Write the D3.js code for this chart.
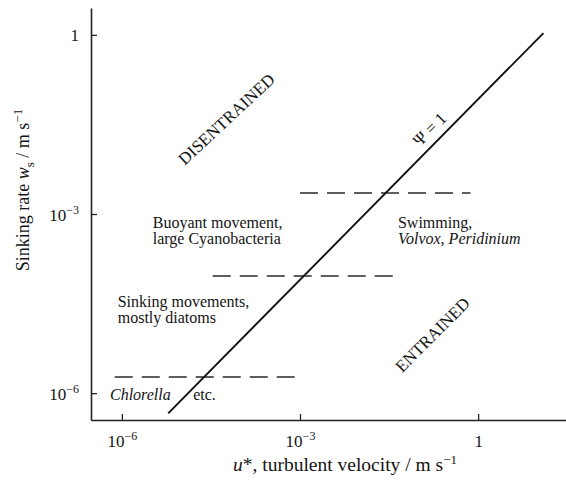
<!DOCTYPE html>
<html>
<head>
<meta charset="utf-8">
<script src="https://cdn.jsdelivr.net/npm/d3@7"></script>
<style>
  body { margin: 0; background: #fff; }
  svg text { fill: #141414; }
</style>
</head>
<body>
<div id="chart"></div>
<script>
const SERIF = '"Liberation Serif", "Times New Roman", Times, "DejaVu Serif", serif';

// log10 exponents for axis ticks
const xTickExps = [-6, -3, 0];
const yTickExps = [-6, -3, 0];

// Psi = 1 line, endpoints as log10(u*), log10(ws)
const psiLine = [[-5.22, -6.34], [1.10, 0.03]];

// dashed class boundaries: log10 ws, from/to log10 u*
const boundaryW = [-2.65, -4.04, -5.73];
const boundaryFrom = [-3.0, -4.47, -6.12];
const boundaryTo = [-0.13, -1.31, -3.08];

// text blocks: lines, log10 u* (left edge), log10 ws (first baseline)
const noteLines = [
  [["Buoyant movement,", false], ["large Cyanobacteria", false]],
  [["Sinking movements,", false], ["mostly diatoms", false]],
  [["Swimming,", false], ["Volvox, Peridinium", true]]
];
const noteU = [-5.48, -6.07, -1.35];
const noteW = [-3.24, -4.56, -3.24];

const regionLabels = ["DISENTRAINED", "ENTRAINED"];
const regionU = [-4.23, -0.76];
const regionW = [-1.42, -5.03];
const regionAngle = [-43, -45];

const width = 566, height = 484;
const margin = { top: 8, right: 0, bottom: 64, left: 91 };

const x = d3.scaleLog()
  .domain([Math.pow(10, -6.52), Math.pow(10, 1.48)])
  .range([margin.left, width - margin.right]);
const y = d3.scaleLog()
  .domain([Math.pow(10, -6.45), Math.pow(10, 0.45)])
  .range([height - margin.bottom, margin.top]);

const px = e => x(Math.pow(10, e));
const py = e => y(Math.pow(10, e));

const svg = d3.select('#chart').append('svg')
  .attr('width', width)
  .attr('height', height)
  .attr('font-family', SERIF);

// tick label with superscript exponent
function powLabel(sel, e) {
  sel.text(null);
  if (e === 0) { sel.append('tspan').text('1'); return; }
  sel.append('tspan').text('10');
  sel.append('tspan').attr('dy', -7).attr('font-size', 12).text('\u2212' + Math.abs(e));
}

// x axis
const xAxis = svg.append('g')
  .attr('transform', `translate(0,${height - margin.bottom})`)
  .call(d3.axisBottom(x)
    .tickValues(xTickExps.map(e => Math.pow(10, e)))
    .tickSizeInner(-6).tickSizeOuter(0).tickFormat(''));
xAxis.attr('font-family', SERIF);
xAxis.select('.domain').attr('stroke', '#222').attr('stroke-width', 1.6);
xAxis.selectAll('.tick line').attr('stroke', '#222').attr('stroke-width', 1.3);
xAxis.selectAll('.tick').each(function(d, i) {
  d3.select(this).append('text')
    .attr('y', 27).attr('text-anchor', 'middle')
    .attr('font-size', 17).attr('fill', '#141414')
    .call(powLabel, xTickExps[i]);
});

// y axis
const yAxis = svg.append('g')
  .attr('transform', `translate(${margin.left},0)`)
  .call(d3.axisLeft(y)
    .tickValues(yTickExps.map(e => Math.pow(10, e)))
    .tickSizeInner(-6).tickSizeOuter(0).tickFormat(''));
yAxis.attr('font-family', SERIF);
yAxis.select('.domain').attr('stroke', '#222').attr('stroke-width', 1.6);
yAxis.selectAll('.tick line').attr('stroke', '#222').attr('stroke-width', 1.3);
yAxis.selectAll('.tick').each(function(d, i) {
  d3.select(this).append('text')
    .attr('x', -12).attr('y', 6).attr('text-anchor', 'end')
    .attr('font-size', 17).attr('fill', '#141414')
    .call(powLabel, yTickExps[i]);
});

// axis titles
const xTitle = svg.append('text')
  .attr('x', 345).attr('y', 471)
  .attr('text-anchor', 'middle').attr('font-size', 19.5);
xTitle.append('tspan').attr('font-style', 'italic').text('u');
xTitle.append('tspan').text('*, turbulent velocity / m s');
xTitle.append('tspan').attr('dy', -7).attr('font-size', 13).text('\u22121');

const yTitle = svg.append('text')
  .attr('transform', 'translate(29,190) rotate(-90)')
  .attr('text-anchor', 'middle').attr('font-size', 18);
yTitle.append('tspan').text('Sinking rate ');
yTitle.append('tspan').attr('font-style', 'italic').text('w');
yTitle.append('tspan').attr('dy', 5).attr('font-size', 13).text('s');
yTitle.append('tspan').attr('dy', -5).text(' / m s');
yTitle.append('tspan').attr('dy', -7).attr('font-size', 13).text('\u22121');

// dashed boundaries
svg.append('g').selectAll('line')
  .data(boundaryW)
  .join('line')
  .attr('x1', (d, i) => px(boundaryFrom[i]))
  .attr('x2', (d, i) => px(boundaryTo[i]))
  .attr('y1', d => py(d))
  .attr('y2', d => py(d))
  .attr('stroke', '#2a2a2a')
  .attr('stroke-width', 1.5)
  .attr('stroke-dasharray', '18,9');

// Psi = 1 line
svg.append('path')
  .datum(psiLine)
  .attr('d', d3.line().x(d => px(d[0])).y(d => py(d[1])))
  .attr('fill', 'none')
  .attr('stroke', '#111')
  .attr('stroke-width', 1.9);

svg.append('text')
  .attr('transform', `translate(${px(-0.81)},${py(-1.59)}) rotate(-45)`)
  .attr('text-anchor', 'middle').attr('dy', 5)
  .attr('font-size', 17)
  .text('\u03A8 = 1');

// region labels
svg.append('g').selectAll('text')
  .data(regionLabels)
  .join('text')
  .attr('transform', (d, i) => `translate(${px(regionU[i])},${py(regionW[i])}) rotate(${regionAngle[i]})`)
  .attr('text-anchor', 'middle').attr('dy', 5)
  .attr('font-size', 17)
  .text(d => d);

// notes
noteLines.forEach((lines, i) => {
  const t = svg.append('text')
    .attr('x', px(noteU[i])).attr('y', py(noteW[i]))
    .attr('font-size', 16);
  lines.forEach((ln, j) => {
    t.append('tspan')
      .attr('x', px(noteU[i]))
      .attr('dy', j === 0 ? 0 : 16)
      .attr('font-style', ln[1] ? 'italic' : null)
      .text(ln[0]);
  });
});

// Chlorella etc.
svg.append('text')
  .attr('x', px(-6.2)).attr('y', py(-6.12))
  .attr('font-size', 16).attr('font-style', 'italic')
  .text('Chlorella');
svg.append('text')
  .attr('x', px(-4.8)).attr('y', py(-6.12))
  .attr('font-size', 16)
  .text('etc.');
</script>
</body>
</html>
